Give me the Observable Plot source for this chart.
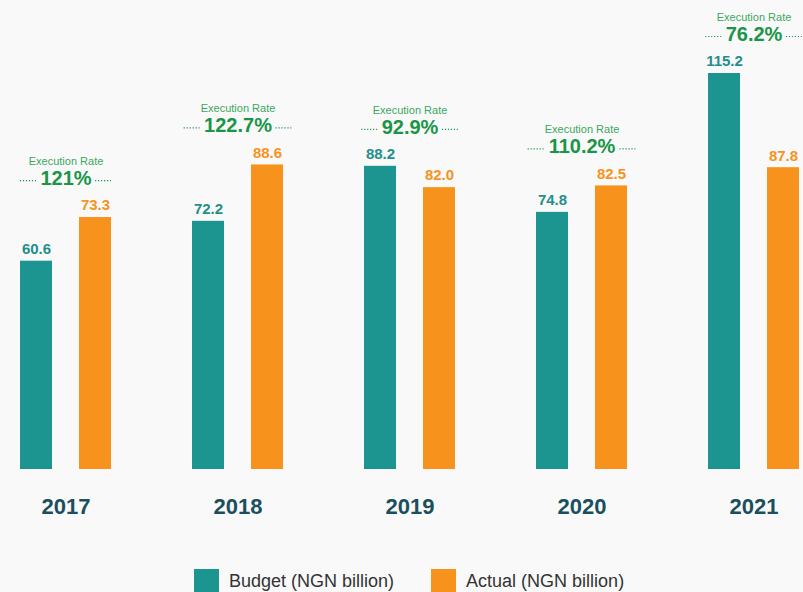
<!DOCTYPE html>
<html><head><meta charset="utf-8">
<script src="https://cdn.jsdelivr.net/npm/d3@7"></script>
<script src="https://cdn.jsdelivr.net/npm/@observablehq/plot@0.6"></script>
<style>
html,body{margin:0;padding:0;background:#f9f9f9;font-family:"Liberation Sans",Arial,sans-serif;width:803px;height:592px;overflow:hidden;}
#chart svg g[aria-label="x-axis tick label"] text{font-weight:bold;}
#legend{display:flex;align-items:center;padding-top:29px;margin-left:194px;}
#legend .item{display:flex;align-items:center;margin-right:37px;}
#legend .sw{width:25px;height:24px;margin-right:10px;}
#legend .lbl{font-size:18px;color:#333;}
</style></head><body>
<div id="chart"></div>
<div id="legend"></div>
<script>
const years = ["2017", "2018", "2019", "2020", "2021"];
const budget = [60.6, 72.2, 88.2, 74.8, 115.2];
const actual = [73.3, 88.6, 82.0, 82.5, 87.8];
const rates = ["121%", "122.7%", "92.9%", "110.2%", "76.2%"];
const seriesNames = ["Budget (NGN billion)", "Actual (NGN billion)"];
const rateCaption = "Execution Rate";

const barColors = ["#1c9591", "#f7931d"];
const labelColors = ["#1f8f8c", "#f7931d"];
const green = "#1a9548";
const lightGreen = "#3aa860";

const rows = years.map((y, i) => ({
  year: y, budget: budget[i], actual: actual[i], rate: rates[i],
  top: Math.max(budget[i], actual[i])
}));

// approximate half-width of the bold 20px rate text
const cw = {".": 0.278, "%": 0.889};
const halfW = s => 20 * [...s].reduce((a, c) => a + (cw[c] ?? 0.556), 0) / 2;

const dotMarks = rows.flatMap(d => {
  const hw = halfW(d.rate);
  const len = 16, gap = 4, half = 45.5;
  const common = {x: "year", y: "top", dy: -37, stroke: green, strokeWidth: 1.2, strokeDasharray: "1.2,1.8"};
  return [
    Plot.tickY([d], {...common, insetLeft: half - (hw + gap + len), insetRight: half + hw + gap}),
    Plot.tickY([d], {...common, insetLeft: half + hw + gap, insetRight: half - (hw + gap + len)})
  ];
});

const chart = Plot.plot({
  width: 803,
  height: 540,
  marginTop: 73,
  marginBottom: 71,
  marginLeft: 19,
  marginRight: 4,
  style: {background: "transparent", fontFamily: "Liberation Sans, Arial, sans-serif"},
  x: {domain: years, paddingInner: 0.471, paddingOuter: 0, align: 0.5},
  y: {domain: [0, d3.max(rows, d => d.top)], axis: null},
  marks: [
    Plot.barY(rows, {x: "year", y: "budget", fill: barColors[0], insetRight: 59}),
    Plot.barY(rows, {x: "year", y: "actual", fill: barColors[1], insetLeft: 59}),
    Plot.text(rows, {x: "year", y: "budget", text: d => d.budget.toFixed(1), dx: -29.5, dy: -12, fill: labelColors[0], fontSize: 15, fontWeight: "bold"}),
    Plot.text(rows, {x: "year", y: "actual", text: d => d.actual.toFixed(1), dx: 29.5, dy: -12, fill: labelColors[1], fontSize: 15, fontWeight: "bold"}),
    Plot.text(rows, {x: "year", y: "top", text: () => rateCaption, dy: -56, fill: lightGreen, fontSize: 11}),
    Plot.text(rows, {x: "year", y: "top", text: "rate", dy: -39, fill: green, fontSize: 20, fontWeight: "bold"}),
    ...dotMarks,
    Plot.axisX({tickSize: 0, tickPadding: 29, fontSize: 22, fill: "#1b4f5e", label: null})
  ]
});
document.getElementById("chart").append(chart);

const legend = document.getElementById("legend");
seriesNames.forEach((n, i) => {
  const it = document.createElement("div");
  it.className = "item";
  it.innerHTML = `<div class="sw" style="background:${barColors[i]}"></div><span class="lbl">${n}</span>`;
  legend.append(it);
});
</script>
</body></html>
